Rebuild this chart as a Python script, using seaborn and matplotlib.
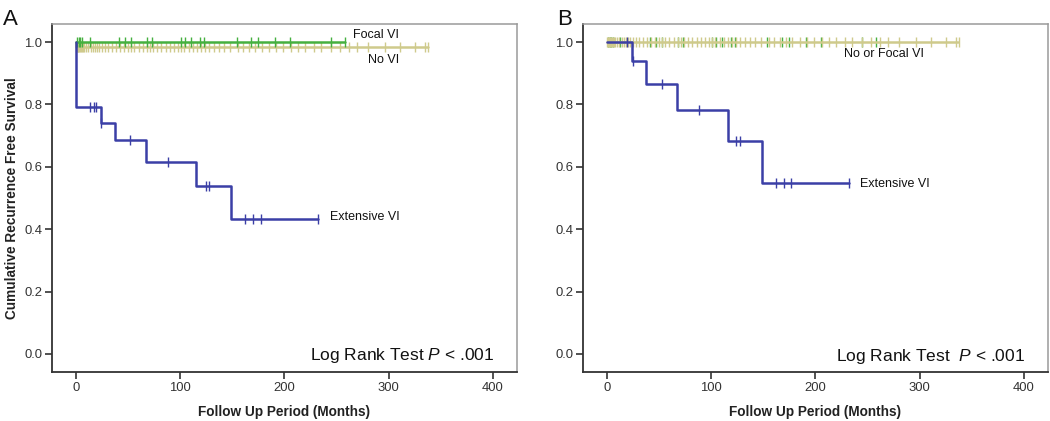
import numpy as np
import pandas as pd
import matplotlib
matplotlib.use("Agg")
import matplotlib.pyplot as plt
import seaborn as sns

# ---------------- data ----------------
# Panel A
ext_a_times = [0, 0.3, 23.7, 37.4, 67.0, 115.0, 149.0, 232.5]
ext_a_surv = [1.0, 0.792, 0.742, 0.685, 0.617, 0.540, 0.432, 0.432]
ext_a_cens = [13, 17.5, 19.5, 24, 52, 88, 125, 128, 162, 170, 177.5, 232.5]

focal_a_times = [0, 258]
focal_a_surv = [1.0, 1.0]
focal_cens = [1, 2.5, 4, 6, 13, 41, 47, 53, 68, 73, 101, 105, 110,
              119, 123, 154, 168, 175, 191, 205, 245, 258]

novi_a_times = [0, 0.5, 338]
novi_a_surv = [1.0, 0.985, 0.985]
novi_cens = [0.5, 1, 1.5, 2, 3, 4, 5, 6, 7, 8, 10, 12, 14, 16, 18, 20, 22, 25,
             28, 31, 35, 38, 42, 46, 50, 53, 56, 60, 64, 68, 71, 74, 78, 82,
             86, 90, 94, 98, 101, 104, 108, 112, 116, 120, 124, 128, 132, 137,
             142, 148, 155, 160, 166, 172, 178, 185, 192, 199, 206, 213, 220,
             228, 235, 245, 253, 262, 270, 280, 296, 311, 325, 335, 338]

# Panel B
ext_b_times = [0, 23.6, 37.9, 67.2, 115.9, 148.7, 232.0]
ext_b_surv = [1.0, 0.938, 0.867, 0.782, 0.683, 0.548, 0.548]
ext_b_cens = [19, 25, 53, 88, 124, 128, 162, 170, 177, 232]

nofocal_b_times = [0, 337]
nofocal_b_surv = [1.0, 1.0]

x_ticks = [0, 100, 200, 300, 400]
y_ticks = [0.0, 0.2, 0.4, 0.6, 0.8, 1.0]

BLUE = "#3b3fa6"
GREEN = "#45b03f"
TAN = "#cfca8c"

# ---------------- style ----------------
sns.set_style("ticks")
plt.rcParams["font.family"] = ["Liberation Sans", "DejaVu Sans"]
plt.rcParams["mathtext.fontset"] = "custom"
plt.rcParams["mathtext.it"] = "Liberation Sans:italic"
plt.rcParams["mathtext.rm"] = "Liberation Sans"


def step_value(times, surv, t):
    idx = np.searchsorted(np.asarray(times), t, side="right") - 1
    idx = np.clip(idx, 0, len(surv) - 1)
    return np.asarray(surv)[idx]


def draw_censors(ax, times, surv, cens, color, zorder=4, lw=1.0):
    cy = step_value(times, surv, np.asarray(cens, float))
    cdf = pd.DataFrame({"t": cens, "s": cy})
    sns.scatterplot(data=cdf, x="t", y="s", marker="|", s=45,
                    color=color, linewidth=lw, ax=ax, zorder=zorder)


def draw_curve(ax, times, surv, cens, color, lw=1.8, zorder=3):
    df = pd.DataFrame({"t": times, "s": surv})
    sns.lineplot(data=df, x="t", y="s", drawstyle="steps-post", color=color,
                 lw=lw, ax=ax, estimator=None, sort=False, zorder=zorder)
    if cens is not None and len(cens):
        draw_censors(ax, times, surv, cens, color, zorder=zorder + 0.5)


def style_axes(ax):
    ax.set_xlim(-23, 423)
    ax.set_ylim(-0.058, 1.058)
    ax.set_xticks(x_ticks)
    ax.set_yticks(y_ticks)
    ax.set_xticklabels([str(v) for v in x_ticks])
    ax.set_yticklabels([f"{v:.1f}" for v in y_ticks])
    ax.tick_params(axis="both", direction="out", length=5, width=1.2,
                   colors="#333333", labelsize=9.4, pad=2)
    for side in ["left", "bottom"]:
        ax.spines[side].set_color("#333333")
        ax.spines[side].set_linewidth(1.3)
    for side in ["top", "right"]:
        ax.spines[side].set_visible(True)
        ax.spines[side].set_color("#9a9a9a")
        ax.spines[side].set_linewidth(1.1)
    ax.set_xlabel("Follow Up Period (Months)", fontsize=9.8, fontweight="bold",
                  color="#222222", labelpad=8)


fig = plt.figure(figsize=(10.5, 4.21), dpi=100)
axA = fig.add_axes([0.0495, 0.1164, 0.4429, 0.8266])
axB = fig.add_axes([0.5552, 0.1164, 0.4428, 0.8266])

# Panel A
draw_curve(axA, novi_a_times, novi_a_surv, novi_cens, TAN, zorder=2)
draw_curve(axA, focal_a_times, focal_a_surv, focal_cens, GREEN, zorder=3)
draw_curve(axA, ext_a_times, ext_a_surv, ext_a_cens, BLUE, zorder=4)
style_axes(axA)
axA.set_ylabel("Cumulative Recurrence Free Survival", fontsize=9.8,
               fontweight="bold", color="#222222", labelpad=4)
axA.text(266, 1.022, "Focal VI", fontsize=9, va="center", color="#111111")
axA.text(280, 0.942, "No VI", fontsize=9, va="center", color="#111111")
axA.text(244, 0.439, "Extensive VI", fontsize=9, va="center", color="#111111")
axA.text(401, -0.019, r"Log Rank Test $\mathit{P}$ < .001", fontsize=12.5,
         ha="right", va="baseline", color="#111111")

# Panel B
draw_censors(axB, nofocal_b_times, nofocal_b_surv, focal_cens, GREEN, zorder=1.5)
draw_curve(axB, nofocal_b_times, nofocal_b_surv, novi_cens, TAN, zorder=2)
draw_curve(axB, ext_b_times, ext_b_surv, ext_b_cens, BLUE, zorder=4)
style_axes(axB)
axB.set_ylabel("")
axB.text(227, 0.961, "No or Focal VI", fontsize=9, va="center", color="#111111")
axB.text(243, 0.546, "Extensive VI", fontsize=9, va="center", color="#111111")
axB.text(401, -0.023, r"Log Rank Test  $\mathit{P}$ < .001", fontsize=12.5,
         ha="right", va="baseline", color="#111111")

fig.text(0.003, 0.978, "A", fontsize=16, va="top", ha="left", color="#111111")
fig.text(0.531, 0.978, "B", fontsize=16, va="top", ha="left", color="#111111")

fig.savefig("out.png", dpi=100)
